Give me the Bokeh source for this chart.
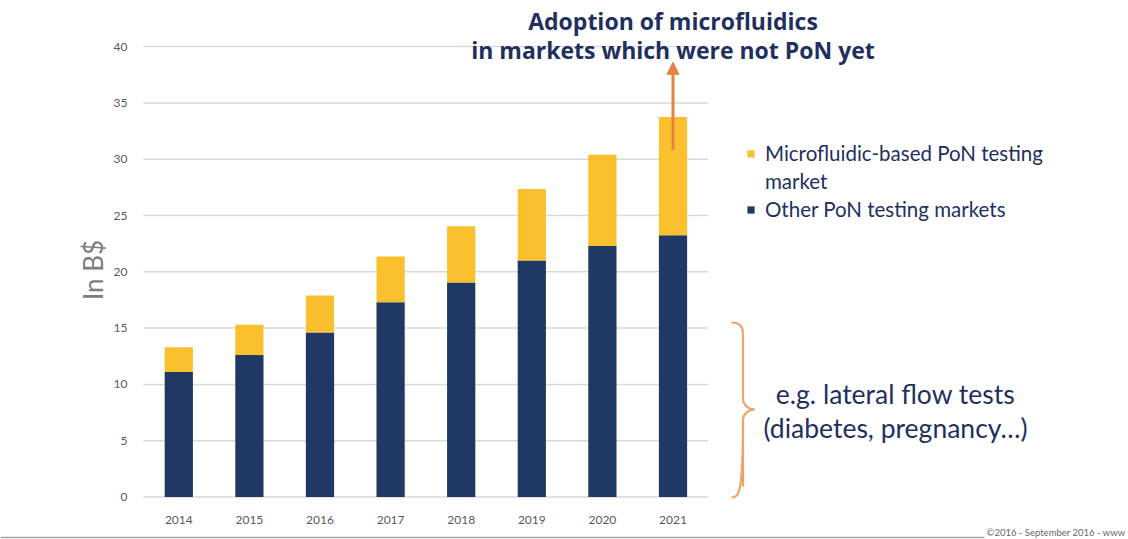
from bokeh.plotting import figure
from bokeh.models import (ColumnDataSource, Range1d, LinearAxis, FixedTicker,
                          Legend, LegendItem, Arrow, NormalHead)
from bokeh.core.properties import value
from bokeh.embed import file_html
from bokeh.resources import INLINE

# Point-of-Need testing market, in billions of dollars
years = [2014, 2015, 2016, 2017, 2018, 2019, 2020, 2021]
other_pon = [11.1, 12.6, 14.6, 17.3, 19.05, 21.0, 22.3, 23.25]
microfluidic_pon = [2.2, 2.7, 3.3, 4.05, 5.0, 6.35, 8.1, 10.5]
y_ticks = [0, 5, 10, 15, 20, 25, 30, 35, 40]

NAVY = "#1f3864"
YELLOW = "#fbc02d"
ORANGE = "#e5843f"
BRACE = "#eba56a"
TEXT = "#1f3060"
FONT = "Lato"

W, H = 1128, 539
# pixel <-> data mapping of the frame (the frame fills the whole canvas)
PX_PER_YEAR = 70.6
PX_PER_UNIT = 11.26
X_ORIGIN_PX = 178.3     # centre of the first bar
Y_ZERO_PX = 496.5       # baseline

x_start = years[0] - X_ORIGIN_PX / PX_PER_YEAR
x_end = x_start + W / PX_PER_YEAR
y_end = Y_ZERO_PX / PX_PER_UNIT
y_start = y_end - H / PX_PER_UNIT


def px2x(px):
    return x_start + px / PX_PER_YEAR


def px2y(py):
    return (Y_ZERO_PX - py) / PX_PER_UNIT


source = ColumnDataSource(dict(year=years, other=other_pon, micro=microfluidic_pon))

p = figure(width=W, height=H, x_range=Range1d(x_start, x_end), y_range=Range1d(y_start, y_end),
           x_axis_type=None, y_axis_type=None, min_border=0, toolbar_location=None,
           output_backend="svg", outline_line_color=None, background_fill_color="white",
           border_fill_color="white")
p.xgrid.visible = False
p.ygrid.visible = False

left_edge = years[0] - 0.5
right_edge = years[-1] + 0.5

# horizontal gridlines limited to the bar area
p.segment(x0=[left_edge] * len(y_ticks), y0=y_ticks, x1=[right_edge] * len(y_ticks), y1=y_ticks,
          line_color="#d9d9d9", line_width=1.5)

# axes drawn at fixed data locations
xaxis = LinearAxis(fixed_location=0, ticker=FixedTicker(ticks=years),
                   axis_line_color=None, major_tick_line_color=None, minor_tick_line_color=None,
                   major_label_standoff=13, major_label_text_font=FONT,
                   major_label_text_font_size="12px", major_label_text_color="#595959")
p.add_layout(xaxis, "below")

yaxis = LinearAxis(fixed_location=left_edge, ticker=FixedTicker(ticks=y_ticks),
                   axis_line_color=None, major_tick_line_color=None, minor_tick_line_color=None,
                   major_label_standoff=10, major_label_text_font=FONT,
                   major_label_text_font_size="12px", major_label_text_color="#595959",
                   axis_label="In B$", axis_label_text_font=FONT, axis_label_text_font_size="26px",
                   axis_label_text_font_style="normal", axis_label_text_color="#7f7f7f",
                   axis_label_standoff=2)
p.add_layout(yaxis, "left")

bars = p.vbar_stack(["other", "micro"], x="year", width=0.4, color=[NAVY, YELLOW],
                    line_color=None, source=source)

# continuation line of the first legend entry carries no swatch
no_swatch = p.vbar(x=[], top=[], width=0, fill_alpha=0, line_alpha=0)

legend = Legend(items=[LegendItem(label="Microfluidic-based PoN testing", renderers=[bars[1]]),
                       LegendItem(label="market", renderers=[no_swatch]),
                       LegendItem(label="Other PoN testing markets", renderers=[bars[0]])],
                location=(746, 318), orientation="vertical", border_line_color=None,
                background_fill_alpha=0, padding=0, margin=0, spacing=4,
                glyph_width=9, glyph_height=9, label_standoff=10, label_height=24,
                label_text_font=FONT, label_text_font_size="20.5px", label_text_color=TEXT)
p.add_layout(legend, "center")

# growth arrow above the last bar
total_last = other_pon[-1] + microfluidic_pon[-1]
p.add_layout(Arrow(end=NormalHead(size=12, fill_color=ORANGE, line_color=ORANGE),
                   x_start=years[-1], y_start=total_last - 2.9, x_end=years[-1], y_end=38.6,
                   line_color=ORANGE, line_width=3))

p.text(x=[years[-1], years[-1]], y=[px2y(20), px2y(49)],
       text=["Adoption of microfluidics", "in markets which were not PoN yet"],
       text_align="center", text_baseline="middle", text_font=value("Open Sans"),
       text_font_style="bold", text_font_size="23px", text_color=TEXT)

# curly brace next to the lower part of the chart
bx, tip_x, end_x = px2x(742.5), px2x(754), px2x(731)
top, mid, bot = px2y(322), px2y(409), px2y(497)
dx = 4 / PX_PER_YEAR
dy = 1 / PX_PER_UNIT
p.bezier(x0=[end_x, bx, tip_x, bx], y0=[top, mid + 11 * dy, mid, mid - 11 * dy],
         x1=[bx, tip_x, bx, end_x], y1=[top - 11 * dy, mid, mid - 11 * dy, bot],
         cx0=[bx - dx, bx, bx + 1.5 * dx, bx], cy0=[top, mid + 4 * dy, mid, bot + 4 * dy],
         cx1=[bx, bx + 1.5 * dx, bx, bx - dx], cy1=[top - 4 * dy, mid, mid - 4 * dy, bot],
         line_color=BRACE, line_width=2.2)
p.segment(x0=[bx, bx], y0=[top - 11 * dy, mid - 11 * dy], x1=[bx, bx], y1=[mid + 11 * dy, bot + 11 * dy],
          line_color=BRACE, line_width=2.2)

p.text(x=[px2x(895), px2x(895)], y=[px2y(393), px2y(427)],
       text=["e.g. lateral flow tests", "(diabetes, pregnancy\u2026)"],
       text_align="center", text_baseline="middle", text_font=value(FONT),
       text_font_size="26.5px", text_color=TEXT)

# footer rule and copyright
p.segment(x0=[x_start], y0=[px2y(537)], x1=[px2x(984)], y1=[px2y(537)],
          line_color="#a6a6a6", line_width=1.5)
p.text(x=[px2x(986)], y=[px2y(532)], text=["\u00a92016 - September 2016 - www"],
       text_align="left", text_baseline="middle", text_font=value(FONT),
       text_font_size="9.5px", text_color="#666666")

open("out.html", "w").write(file_html(p, INLINE))
